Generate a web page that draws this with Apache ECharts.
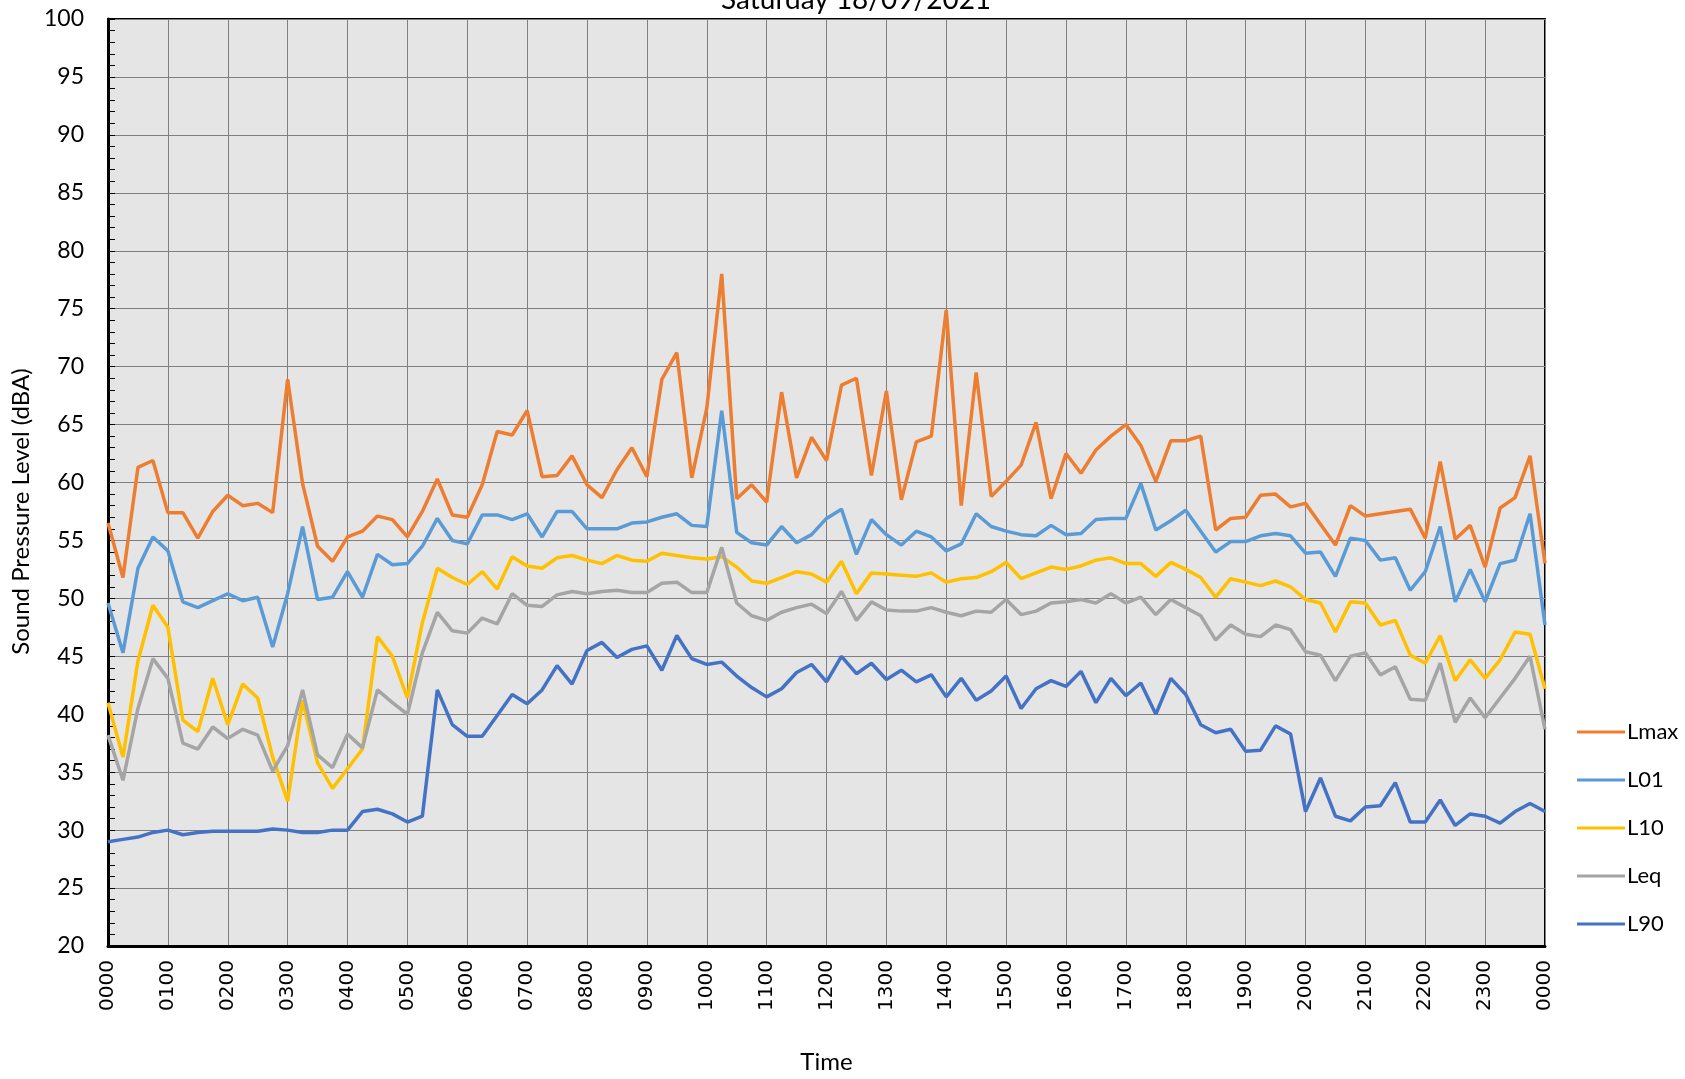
<!DOCTYPE html>
<html>
<head>
<meta charset="utf-8">
<script src="https://cdn.jsdelivr.net/npm/echarts@6/dist/echarts.min.js"></script>
<style>
  html, body { margin: 0; padding: 0; background: #fff; }
  #main { width: 1685px; height: 1079px; }
</style>
</head>
<body>
<div id="main"></div>
<script>
// 15 minute readings, 0000 through 0000 next day
var times = [];
for (var i = 0; i <= 96; i++) {
  var h = Math.floor(i / 4), m = (i % 4) * 15;
  times.push((h < 10 ? '0' : '') + h + (m < 10 ? '0' : '') + m);
}

var Lmax = [56.5,51.8,61.3,61.9,57.4,57.4,55.2,57.5,58.9,58.0,58.2,57.4,68.9,59.9,54.5,53.2,
  55.3,55.8,57.1,56.8,55.3,57.5,60.3,57.2,57.0,59.8,64.4,64.1,66.2,60.5,60.6,62.3,
  59.8,58.7,61.1,63.0,60.5,68.9,71.2,60.4,66.4,78.0,58.6,59.8,58.3,67.8,60.4,63.9,
  61.9,68.4,69.0,60.6,67.9,58.5,63.5,64.0,74.9,58.0,69.5,58.8,60.1,61.5,65.2,58.6,
  62.5,60.8,62.8,64.0,65.0,63.2,60.1,63.6,63.6,64.0,55.9,56.9,57.0,58.9,59.0,57.9,
  58.2,56.4,54.6,58.0,57.1,57.3,57.5,57.7,55.2,61.8,55.1,56.3,52.7,57.8,58.7,62.3,53.0];

var L01 = [49.6,45.3,52.6,55.3,54.1,49.7,49.2,49.8,50.4,49.8,50.1,45.8,50.4,56.2,49.9,50.1,
  52.3,50.1,53.8,52.9,53.0,54.5,56.9,55.0,54.7,57.2,57.2,56.8,57.3,55.3,57.5,57.5,
  56.0,56.0,56.0,56.5,56.6,57.0,57.3,56.3,56.2,66.2,55.7,54.8,54.6,56.2,54.8,55.5,
  56.9,57.7,53.8,56.8,55.5,54.6,55.8,55.3,54.1,54.7,57.3,56.2,55.8,55.5,55.4,56.3,
  55.5,55.6,56.8,56.9,56.9,59.9,55.9,56.7,57.6,55.8,54.0,54.9,54.9,55.4,55.6,55.4,
  53.9,54.0,51.9,55.2,55.0,53.3,53.5,50.7,52.3,56.2,49.7,52.5,49.7,53.0,53.3,57.3,47.7];

var L10 = [41.0,36.3,44.6,49.4,47.5,39.5,38.5,43.1,39.1,42.6,41.4,36.3,32.5,41.2,35.8,33.6,
  35.3,37.0,46.7,45.0,41.4,47.9,52.6,51.8,51.2,52.3,50.8,53.6,52.8,52.6,53.5,53.7,
  53.3,53.0,53.7,53.3,53.2,53.9,53.7,53.5,53.4,53.6,52.7,51.5,51.3,51.8,52.3,52.1,
  51.4,53.2,50.4,52.2,52.1,52.0,51.9,52.2,51.4,51.7,51.8,52.3,53.1,51.7,52.2,52.7,
  52.5,52.8,53.3,53.5,53.0,53.0,51.9,53.1,52.5,51.8,50.1,51.7,51.4,51.1,51.5,51.0,
  49.9,49.6,47.1,49.7,49.6,47.7,48.1,45.1,44.4,46.8,42.9,44.7,43.1,44.7,47.1,46.9,42.2];

var Leq = [38.2,34.3,40.5,44.8,43.1,37.5,37.0,38.9,37.9,38.7,38.2,35.1,37.3,42.1,36.5,35.4,
  38.3,37.1,42.1,41.0,40.0,45.3,48.8,47.2,47.0,48.3,47.8,50.4,49.4,49.3,50.3,50.6,
  50.4,50.6,50.7,50.5,50.5,51.3,51.4,50.5,50.5,54.4,49.6,48.5,48.1,48.8,49.2,49.5,
  48.7,50.6,48.1,49.7,49.0,48.9,48.9,49.2,48.8,48.5,48.9,48.8,49.9,48.6,48.9,49.6,
  49.7,49.9,49.6,50.4,49.6,50.1,48.6,49.9,49.2,48.5,46.4,47.7,46.9,46.7,47.7,47.3,
  45.4,45.1,42.9,45.0,45.3,43.4,44.1,41.3,41.2,44.4,39.3,41.4,39.7,41.4,43.1,45.0,38.7];

var L90 = [29.0,29.2,29.4,29.8,30.0,29.6,29.8,29.9,29.9,29.9,29.9,30.1,30.0,29.8,29.8,30.0,
  30.0,31.6,31.8,31.4,30.7,31.2,42.1,39.1,38.1,38.1,39.9,41.7,40.9,42.1,44.2,42.6,
  45.5,46.2,44.9,45.6,45.9,43.8,46.8,44.8,44.3,44.5,43.3,42.3,41.5,42.2,43.6,44.3,
  42.8,45.0,43.5,44.4,43.0,43.8,42.8,43.4,41.5,43.1,41.2,42.0,43.3,40.5,42.2,42.9,
  42.4,43.7,41.0,43.1,41.6,42.7,40.0,43.1,41.7,39.1,38.4,38.7,36.8,36.9,39.0,38.3,
  31.6,34.5,31.2,30.8,32.0,32.1,34.1,30.7,30.7,32.6,30.4,31.4,31.2,30.6,31.6,32.3,31.6];

var seriesNames = ['Lmax', 'L01', 'L10', 'Leq', 'L90'];
var seriesData = [Lmax, L01, L10, Leq, L90];
var colors = ['#ED7D31', '#5B9BD5', '#FFC000', '#A5A5A5', '#4472C4'];

var chart = echarts.init(document.getElementById('main'));
chart.setOption({
  animation: false,
  backgroundColor: '#fff',
  title: {
    text: 'Saturday 18/09/2021',
    left: 716,
    top: -19,
    textStyle: { fontFamily: 'Lato', fontSize: 28, fontWeight: 'normal', color: '#000' }
  },
  legend: {
    orient: 'vertical',
    left: 1572,
    top: 716,
    itemWidth: 48,
    itemHeight: 3,
    itemGap: 26,
    icon: 'path://M0,0H48V3H0Z',
    data: seriesNames,
    textStyle: { fontFamily: 'Lato', fontSize: 22, color: '#000', padding: [0, 0, 0, -3] }
  },
  grid: {
    left: 108,
    right: 140,
    top: 19,
    bottom: 130,
    show: true,
    backgroundColor: '#e5e5e5',
    borderColor: '#000',
    borderWidth: 2
  },
  xAxis: {
    type: 'category',
    data: times,
    boundaryGap: false,
    name: 'Time',
    nameLocation: 'middle',
    nameGap: 104,
    nameTextStyle: { fontFamily: 'Lato', fontSize: 24, color: '#000' },
    axisLine: { lineStyle: { color: '#000', width: 3 } },
    axisTick: { show: false },
    axisLabel: {
      interval: 3,
      rotate: 90,
      margin: 14,
      fontFamily: 'DejaVu Sans',
      fontSize: 20,
      color: '#000',
      formatter: function (v) { return v === '2400' ? '0000' : v; }
    },
    splitLine: { show: true, interval: 3, lineStyle: { color: '#7f7f7f', width: 1 } }
  },
  yAxis: {
    type: 'value',
    min: 20,
    max: 100,
    interval: 5,
    name: 'Sound Pressure Level (dBA)',
    nameLocation: 'middle',
    nameGap: 72,
    nameTextStyle: { fontFamily: 'Lato', fontSize: 24, color: '#000', padding: [0, 58, 0, 0] },
    axisLine: { show: true, lineStyle: { color: '#000', width: 3 } },
    axisTick: { show: true, inside: true, length: 7, lineStyle: { color: '#000' } },
    minorTick: { show: true, splitNumber: 5, length: 7, lineStyle: { color: '#000' } },
    axisLabel: { margin: 24, fontFamily: 'Lato', fontSize: 23, color: '#000' },
    splitLine: { show: true, lineStyle: { color: '#7f7f7f', width: 1 } }
  },
  series: seriesNames.map(function (name, k) {
    return {
      name: name,
      type: 'line',
      data: seriesData[k],
      showSymbol: false,
      symbol: 'none',
      color: colors[k],
      lineStyle: { color: colors[k], width: 3.5 }
    };
  })
});
</script>
</body>
</html>
